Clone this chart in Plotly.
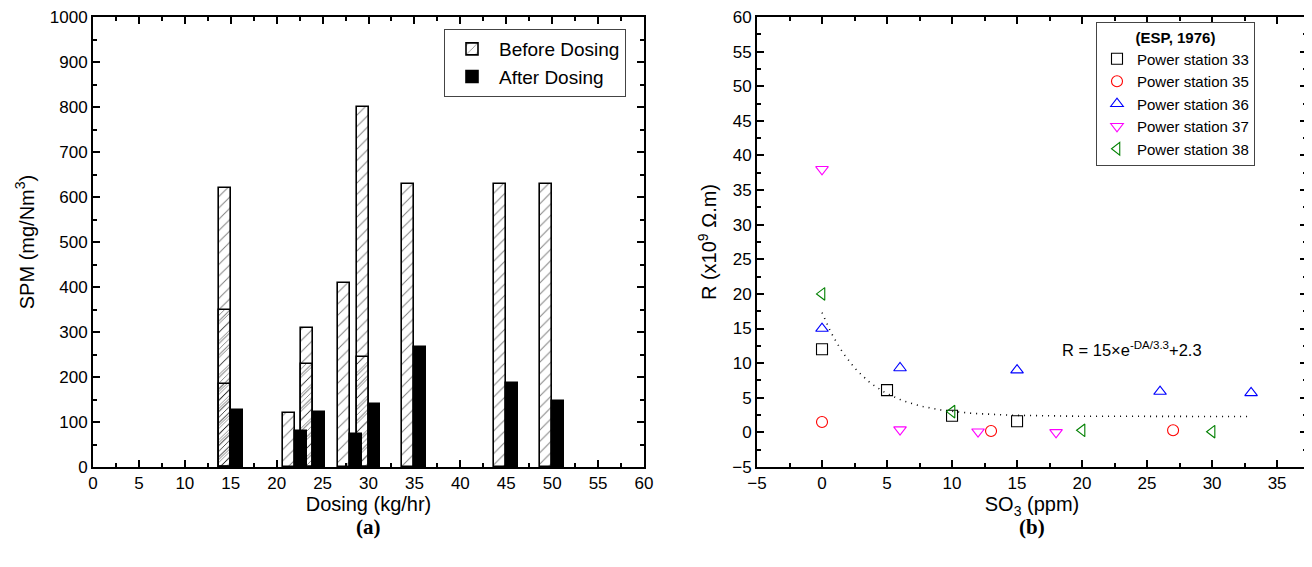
import numpy as np
import plotly.graph_objects as go

# ---------------- Panel (a) data ----------------
dosing = [15, 22, 24, 28, 30, 35, 45, 50]
spm_before = [620, 120, 310, 410, 800, 630, 630, 630]
spm_after = [127, 80, 122, 74, 140, 267, 187, 147]
# further "before dosing" readings drawn over the main bars at the same dosing rate
dosing_extra = [15, 24, 30]
spm_before_extra = [350, 230, 245]
dosing_extra2 = [15]
spm_before_extra2 = [185]

# ---------------- Panel (b) data ----------------
so3_33 = [0, 5, 10, 15]
r_33 = [12, 6.1, 2.4, 1.6]
so3_35 = [0, 13, 27]
r_35 = [1.5, 0.2, 0.3]
so3_36 = [0, 6, 15, 26, 33]
r_36 = [15, 9.3, 9, 5.9, 5.7]
so3_37 = [0, 6, 12, 18]
r_37 = [38, 0.4, 0.1, 0]
so3_38 = [0, 10, 20, 30]
r_38 = [20, 3, 0.3, 0.1]

# fitted curve R = A*exp(-DA/T) + C (equation printed on the chart)
fit_A, fit_T, fit_C = 15, 3.3, 2.3
fit_x = np.linspace(0, 33, 120)
fit_y = fit_A * np.exp(-fit_x / fit_T) + fit_C

FONT = "Liberation Sans, Arial, sans-serif"
SERIF = "Liberation Serif, Times New Roman, serif"
BAR_W = 1.3

fig = go.Figure()

fig.add_trace(go.Bar(
    x=dosing, y=spm_before, name="Before Dosing", width=BAR_W, offset=-BAR_W,
    marker=dict(color="white", line=dict(color="black", width=1.6),
                pattern=dict(shape="/", fgcolor="black", bgcolor="white", size=8, solidity=0.12)),
    xaxis="x", yaxis="y", legend="legend"))
fig.add_trace(go.Bar(
    x=dosing_extra, y=spm_before_extra, name="Before Dosing", showlegend=False,
    width=BAR_W, offset=-BAR_W,
    marker=dict(color="rgba(0,0,0,0)", line=dict(color="black", width=1.6),
                pattern=dict(shape="/", fgcolor="black", bgcolor="rgba(0,0,0,0)", size=6, solidity=0.15)),
    xaxis="x", yaxis="y"))
fig.add_trace(go.Bar(
    x=dosing_extra2, y=spm_before_extra2, name="Before Dosing", showlegend=False,
    width=BAR_W, offset=-BAR_W,
    marker=dict(color="rgba(0,0,0,0)", line=dict(color="black", width=1.6),
                pattern=dict(shape="/", fgcolor="black", bgcolor="rgba(0,0,0,0)", size=4, solidity=0.2)),
    xaxis="x", yaxis="y"))
fig.add_trace(go.Bar(
    x=dosing, y=spm_after, name="After Dosing", width=BAR_W, offset=0,
    marker=dict(color="black", line=dict(color="black", width=1.6)),
    xaxis="x", yaxis="y", legend="legend"))

# ---------------- Panel (b) traces ----------------
fig.add_trace(go.Scatter(x=fit_x, y=fit_y, mode="lines", showlegend=False,
                         line=dict(color="black", width=1.6, dash="1px,5px"),
                         xaxis="x2", yaxis="y2"))
series = [
    ("Power station 33", so3_33, r_33, "square-open", "black"),
    ("Power station 35", so3_35, r_35, "circle-open", "red"),
    ("Power station 36", so3_36, r_36, "triangle-up-open", "blue"),
    ("Power station 37", so3_37, r_37, "triangle-down-open", "magenta"),
    ("Power station 38", so3_38, r_38, "triangle-left-open", "green"),
]
for name, xs, ys, sym, col in series:
    fig.add_trace(go.Scatter(x=xs, y=ys, mode="markers", name=name,
                             marker=dict(symbol=sym, size=11, color=col, line=dict(width=1.1, color=col)),
                             xaxis="x2", yaxis="y2", legend="legend2"))

# the page body adds an 8 px margin, so the figure is sized to fit the window
OFF = 8
W, H = 1312 - OFF, 567 - OFF
def px_x(p):
    return (p - OFF) / W
def px_y(p):
    return (567 - p) / H

axis_common = dict(showline=True, linecolor="black", linewidth=2, mirror="allticks",
                   ticks="inside", ticklen=7, tickwidth=1.5, tickcolor="black",
                   showgrid=False, zeroline=False, automargin=False,
                   ticklabeloverflow="allow",
                   tickfont=dict(family=FONT, size=17, color="black"),
                   title_font=dict(family=FONT, size=20, color="black"))
minor_common = dict(ticks="inside", ticklen=4, tickcolor="black", tickwidth=1.5)

ydom = [px_y(467), px_y(17)]
fig.update_layout(
    width=W, height=H,
    margin=dict(l=0, r=0, t=0, b=0),
    paper_bgcolor="white", plot_bgcolor="white",
    barmode="overlay", bargap=0,
    font=dict(family=FONT, color="black"),
    xaxis=dict(axis_common, domain=[px_x(93), px_x(644)], range=[0, 60], dtick=5, anchor="y",
               minor=dict(minor_common, dtick=2.5),
               title=dict(text="Dosing (kg/hr)", standoff=0)),
    yaxis=dict(axis_common, domain=ydom, range=[0, 1000], dtick=100, anchor="x",
               minor=dict(minor_common, dtick=50),
               title=dict(text="SPM (mg/Nm<sup>3</sup>)", standoff=10)),
    xaxis2=dict(axis_common, domain=[px_x(757), px_x(1307)], range=[-5, 37.3], dtick=5, anchor="y2",
                minor=dict(minor_common, dtick=2.5),
                title=dict(text="SO<sub>3</sub> (ppm)", standoff=0)),
    yaxis2=dict(axis_common, domain=ydom, range=[-5, 60], dtick=5, anchor="x2",
                minor=dict(minor_common, dtick=2.5),
                title=dict(text="R (x10<sup>9</sup> \u03a9.m)", standoff=10)),
    legend=dict(x=px_x(626), y=px_y(29), xanchor="right", yanchor="top",
                bordercolor="#444", borderwidth=1, bgcolor="white",
                font=dict(family=FONT, size=19, color="black"),
                itemwidth=44, tracegroupgap=0),
    legend2=dict(x=px_x(1255), y=px_y(22), xanchor="right", yanchor="top",
                 bordercolor="#444", borderwidth=1, bgcolor="white",
                 font=dict(family=FONT, size=15, color="black"),
                 title=dict(text="<b>(ESP, 1976)</b>", side="top center",
                            font=dict(family=FONT, size=15, color="black")),
                 itemwidth=30, tracegroupgap=0),
    annotations=[
        dict(text="<b>(a)</b>", x=(px_x(93) + px_x(644)) / 2, y=px_y(527), xref="paper", yref="paper",
             xanchor="center", yanchor="middle",
             showarrow=False, font=dict(family=SERIF, size=21, color="black")),
        dict(text="<b>(b)</b>", x=(px_x(757) + px_x(1307)) / 2, y=px_y(527), xref="paper", yref="paper",
             xanchor="center", yanchor="middle",
             showarrow=False, font=dict(family=SERIF, size=21, color="black")),
        dict(text="R = 15\u00d7e<sup>-DA/3.3</sup>+2.3", x=18.3, y=12, xref="x2", yref="y2",
             xanchor="left", yanchor="middle", showarrow=False,
             font=dict(family=FONT, size=16.5, color="black")),
    ],
)

fig.write_html("out.html")
